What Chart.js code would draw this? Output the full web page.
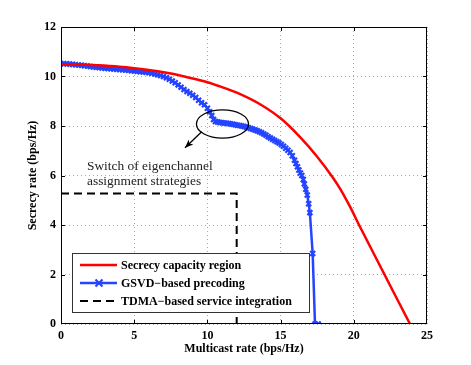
<!DOCTYPE html>
<html>
<head>
<meta charset="utf-8">
<script src="https://cdn.jsdelivr.net/npm/chart.js@4.4.1/dist/chart.umd.min.js"></script>
<style>
  html, body { margin: 0; padding: 0; background: #fff; }
  canvas { display: block; }
</style>
</head>
<body>
<canvas id="c" width="471" height="365"></canvas>
<script>
// values (x = multicast rate, y = secrecy rate)
const capacityX = [0, 1, 2.5, 4, 5, 6.5, 7.5, 8.5, 10, 11, 12.2, 13.6, 15, 16.3, 17.5, 18.6, 19.1, 19.74, 20.42, 23.84]
const capacityY = [10.5, 10.49, 10.45, 10.39, 10.33, 10.22, 10.12, 9.99, 9.77, 9.57, 9.3, 8.88, 8.31, 7.57, 6.76, 5.89, 5.43, 4.74, 3.93, 0]

const gsvdX = [0, 0.2, 0.4, 0.6, 0.8, 1.0, 1.2, 1.4, 1.6, 1.8, 2.0, 2.2, 2.4, 2.6, 2.8, 3.0, 3.2, 3.4, 3.6, 3.8,
  4.0, 4.2, 4.4, 4.6, 4.8, 5.0, 5.2, 5.4, 5.6, 5.8, 6.0, 6.2, 6.4, 6.6, 6.8, 7.0, 7.2, 7.4, 7.6, 7.8,
  8.0, 8.2, 8.4, 8.6, 8.8, 9.0, 9.2, 9.4, 9.6, 9.8, 10.0, 10.15, 10.3, 10.42, 10.55,
  10.7, 10.85, 11.0, 11.15, 11.3, 11.45, 11.6, 11.75, 11.9, 12.05, 12.2, 12.35, 12.5, 12.65, 12.8, 12.95,
  13.1, 13.25, 13.4, 13.55, 13.7, 13.85, 14.0, 14.15, 14.3, 14.45, 14.6, 14.75, 14.9, 15.05, 15.2, 15.35,
  15.5, 15.65, 15.8, 15.95, 16.05, 16.15, 16.25, 16.35, 16.45, 16.55, 16.62, 16.72, 16.82, 16.92, 17.0,
  17.19, 17.35, 17.57]
const gsvdY = [10.52, 10.52, 10.51, 10.5, 10.49, 10.47, 10.46, 10.45, 10.43, 10.42, 10.4, 10.38, 10.37, 10.36, 10.34, 10.33, 10.32, 10.31, 10.3, 10.29,
  10.28, 10.27, 10.26, 10.25, 10.23, 10.22, 10.21, 10.19, 10.18, 10.17, 10.15, 10.13, 10.1, 10.07, 10.04, 10.0, 9.95, 9.89, 9.82, 9.75,
  9.66, 9.57, 9.47, 9.39, 9.32, 9.24, 9.15, 9.04, 8.94, 8.86, 8.72, 8.58, 8.42, 8.26, 8.18,
  8.16, 8.14, 8.13, 8.12, 8.11, 8.1, 8.08, 8.07, 8.05, 8.03, 8.02, 8.0, 7.98, 7.96, 7.93, 7.9,
  7.87, 7.84, 7.81, 7.77, 7.73, 7.68, 7.63, 7.57, 7.52, 7.46, 7.41, 7.36, 7.31, 7.25, 7.18, 7.1,
  7.02, 6.93, 6.8, 6.62, 6.48, 6.35, 6.22, 6.1, 6.0, 5.84, 5.66, 5.44, 5.21, 4.86, 4.5,
  2.85, 0, 0]

const tdmaX = [0, 12, 12]
const tdmaY = [5.27, 5.27, 0]

const legendLabels = ['Secrecy capacity region', 'GSVD\u2212based precoding', 'TDMA\u2212based service integration']
const noteLines = ['Switch of eigenchannel', 'assignment strategies']

const pts = (xs, ys) => xs.map((x, i) => ({ x, y: ys[i] }))

const RED = '#ff0000'
const BLUE = '#2444ff'
const SERIF = '"Liberation Serif", "DejaVu Serif", serif'

const decor = {
  id: 'decor',
  afterDatasetsDraw(chart) {
    const { ctx, chartArea: a, scales: { x, y } } = chart
    ctx.save()

    // box + inward ticks (matlab style)
    ctx.strokeStyle = '#000'
    ctx.lineWidth = 1
    ctx.strokeRect(a.left + 0.5, a.top + 0.5, a.right - a.left - 1, a.bottom - a.top - 1)
    ctx.beginPath()
    for (const v of [5, 10, 15, 20]) {
      const px = Math.round(x.getPixelForValue(v)) + 0.5
      ctx.moveTo(px, a.bottom); ctx.lineTo(px, a.bottom - 4)
      ctx.moveTo(px, a.top); ctx.lineTo(px, a.top + 4)
    }
    for (const v of [2, 4, 6, 8, 10]) {
      const py = Math.round(y.getPixelForValue(v)) + 0.5
      ctx.moveTo(a.left, py); ctx.lineTo(a.left + 4, py)
      ctx.moveTo(a.right, py); ctx.lineTo(a.right - 4, py)
    }
    ctx.stroke()

    // ellipse around the switching point
    const cx = x.getPixelForValue(11.03), cy = y.getPixelForValue(8.08)
    const rx = x.getPixelForValue(11.03 + 1.78) - cx
    const ry = cy - y.getPixelForValue(8.08 + 0.57)
    ctx.lineWidth = 1.3
    ctx.beginPath()
    ctx.ellipse(cx, cy, rx, ry, 0, 0, Math.PI * 2)
    ctx.stroke()

    // arrow
    const x1 = x.getPixelForValue(9.61), y1 = y.getPixelForValue(7.77)
    const x2 = x.getPixelForValue(8.47), y2 = y.getPixelForValue(7.12)
    const ang = Math.atan2(y2 - y1, x2 - x1)
    ctx.beginPath()
    ctx.moveTo(x1, y1); ctx.lineTo(x2, y2)
    ctx.stroke()
    ctx.beginPath()
    ctx.moveTo(x2, y2)
    ctx.lineTo(x2 - 9 * Math.cos(ang - 0.38), y2 - 9 * Math.sin(ang - 0.38))
    ctx.lineTo(x2 - 6 * Math.cos(ang), y2 - 6 * Math.sin(ang))
    ctx.lineTo(x2 - 9 * Math.cos(ang + 0.38), y2 - 9 * Math.sin(ang + 0.38))
    ctx.closePath()
    ctx.fillStyle = '#000'
    ctx.fill()

    // annotation text
    ctx.fillStyle = '#222'
    ctx.font = '13.4px ' + SERIF
    ctx.textAlign = 'left'
    ctx.textBaseline = 'alphabetic'
    ctx.fillText(noteLines[0], 87, 170)
    ctx.fillText(noteLines[1], 87, 185)

    // legend
    const lx = 72, ly = 253, lw = 237, lh = 59
    ctx.fillStyle = '#fff'
    ctx.fillRect(lx, ly, lw, lh)
    ctx.strokeStyle = '#333'
    ctx.lineWidth = 1
    ctx.strokeRect(lx + 0.5, ly + 0.5, lw, lh)
    const rows = [265, 283, 301]
    ctx.font = 'bold 12px ' + SERIF
    ctx.textBaseline = 'middle'
    rows.forEach((ry0, i) => {
      ctx.save()
      ctx.beginPath()
      ctx.moveTo(80, ry0); ctx.lineTo(117, ry0)
      if (i === 0) { ctx.strokeStyle = RED; ctx.lineWidth = 2.5 }
      if (i === 1) { ctx.strokeStyle = BLUE; ctx.lineWidth = 2.5 }
      if (i === 2) { ctx.strokeStyle = '#000'; ctx.lineWidth = 2.2; ctx.setLineDash([8, 5]) }
      ctx.stroke()
      if (i === 1) {
        ctx.lineWidth = 2.2
        ctx.beginPath()
        ctx.moveTo(95.5, ry0 - 3.5); ctx.lineTo(102.5, ry0 + 3.5)
        ctx.moveTo(95.5, ry0 + 3.5); ctx.lineTo(102.5, ry0 - 3.5)
        ctx.stroke()
      }
      ctx.restore()
      ctx.fillStyle = '#000'
      ctx.fillText(legendLabels[i], 121, ry0 + 1)
    })

    // axis titles
    ctx.font = 'bold 12px ' + SERIF
    ctx.textAlign = 'center'
    ctx.fillText('Multicast rate (bps/Hz)', (a.left + a.right) / 2, 349)
    ctx.translate(33, (a.top + a.bottom) / 2)
    ctx.rotate(-Math.PI / 2)
    ctx.fillText('Secrecy rate (bps/Hz)', 0, 0)
    ctx.restore()
  }
}

new Chart(document.getElementById('c'), {
  type: 'scatter',
  data: {
    datasets: [
      {
        label: legendLabels[2],
        data: pts(tdmaX, tdmaY),
        showLine: true,
        borderColor: '#000',
        borderWidth: 2,
        borderDash: [8, 5],
        pointRadius: 0,
      },
      {
        label: legendLabels[0],
        data: pts(capacityX, capacityY),
        showLine: true,
        borderColor: RED,
        borderWidth: 2.5,
        cubicInterpolationMode: 'monotone',
        pointRadius: 0,
      },
      {
        label: legendLabels[1],
        data: pts(gsvdX, gsvdY),
        showLine: true,
        borderColor: BLUE,
        borderWidth: 2.5,
        pointStyle: 'crossRot',
        pointRadius: 3.5,
        pointBorderWidth: 2.2,
        pointBorderColor: BLUE,
      },
    ]
  },
  options: {
    responsive: false,
    animation: false,
    layout: { padding: { top: 27, right: 44, left: 0, bottom: 0 } },
    plugins: { legend: { display: false }, tooltip: { enabled: false } },
    scales: {
      x: {
        type: 'linear', min: 0, max: 25,
        ticks: { stepSize: 5, color: '#000', padding: 5, font: { family: SERIF, size: 12, weight: 'bold' } },
        grid: { color: '#aaa', drawTicks: false },
        border: { display: false, dash: [1, 3] },
        afterFit: s => { s.height = 41 },
      },
      y: {
        type: 'linear', min: 0, max: 12,
        ticks: { stepSize: 2, color: '#000', padding: 5, font: { family: SERIF, size: 12, weight: 'bold' } },
        grid: { color: '#aaa', drawTicks: false },
        border: { display: false, dash: [1, 3] },
        afterFit: s => { s.width = 61 },
      },
    }
  },
  plugins: [decor]
})
</script>
</body>
</html>
